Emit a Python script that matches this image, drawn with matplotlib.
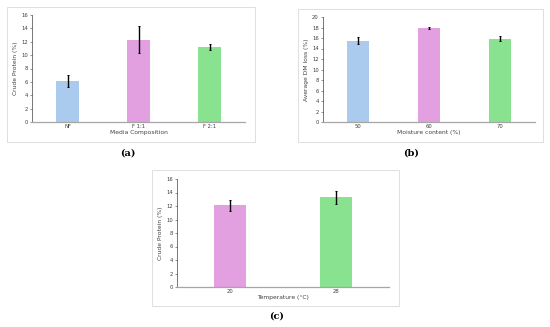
import matplotlib
matplotlib.use("Agg")
import matplotlib.pyplot as plt
from matplotlib.patches import Rectangle

# Panel (a): media composition
media = ["NF", "F 1:1", "F 2:1"]
media_protein = [6.1, 12.3, 11.2]
media_err = [0.9, 2.05, 0.45]

# Panel (b): moisture content
moisture = ["50", "60", "70"]
dm_loss = [15.5, 17.9, 15.9]
dm_err = [0.7, 0.15, 0.5]

# Panel (c): temperature
temps = ["20", "28"]
temp_protein = [12.1, 13.3]
temp_err = [0.85, 0.95]

blue = "#aacbee"
pink = "#e3a0e0"
green = "#88e28f"

W, H = 550, 327
fig = plt.figure(figsize=(W / 100, H / 100), dpi=100)


def px_axes(left, top, right, bottom):
    return fig.add_axes([left / W, 1 - bottom / H, (right - left) / W, (bottom - top) / H])


def frame(left, top, right, bottom):
    fig.patches.append(Rectangle((left / W, 1 - bottom / H), (right - left) / W, (bottom - top) / H,
                                 transform=fig.transFigure, fill=False, edgecolor="#d9d9d9", linewidth=0.6))


def panel(ax, cats, vals, errs, colors, ymax, ystep, xlabel, ylabel):
    x = list(range(len(cats)))
    ax.bar(x, vals, width=0.31, color=colors, zorder=2)
    ax.errorbar(x, vals, yerr=errs, fmt="none", ecolor="black", elinewidth=1.0, capsize=1, capthick=0.7, zorder=3)
    ax.set_xlim(-0.5, len(cats) - 0.5)
    ax.set_ylim(0, ymax)
    ax.set_yticks(range(0, ymax + 1, ystep))
    ax.set_xticks(x)
    ax.set_xticklabels(cats)
    ax.tick_params(axis="both", labelsize=3.8, colors="#404040", length=1.5, width=0.4, pad=1.5)
    ax.tick_params(axis="x", length=0)
    for s in ["top", "right"]:
        ax.spines[s].set_visible(False)
    ax.spines["left"].set_color("#404040")
    ax.spines["left"].set_linewidth(0.5)
    ax.spines["bottom"].set_color("#a6a6a6")
    ax.spines["bottom"].set_linewidth(0.9)
    ax.set_xlabel(xlabel, fontsize=4.3, color="#404040", labelpad=1)
    ax.set_ylabel(ylabel, fontsize=4.3, color="#404040", labelpad=2)


frame(7, 7, 255, 142)
ax_a = px_axes(32, 15, 245, 122)
panel(ax_a, media, media_protein, media_err, [blue, pink, green], 16, 2,
      "Media Composition", "Crude Protein (%)")

frame(298, 9, 543, 142)
ax_b = px_axes(323, 17, 535, 122)
panel(ax_b, moisture, dm_loss, dm_err, [blue, pink, green], 20, 2,
      "Moisture content (%)", "Average DM loss (%)")

frame(152, 170, 399, 306)
ax_c = px_axes(177, 179, 389, 287)
panel(ax_c, temps, temp_protein, temp_err, [pink, green], 16, 2,
      "Temperature (\u00b0C)", "Crude Protein (%)")

cap = dict(fontsize=7, family="DejaVu Serif", fontweight="bold", ha="center", va="center",
           transform=fig.transFigure)
fig.text(128 / W, 1 - 153 / H, "(a)", **cap)
fig.text(411 / W, 1 - 153 / H, "(b)", **cap)
fig.text(277 / W, 1 - 316 / H, "(c)", **cap)

fig.savefig("out.png", dpi=100)
